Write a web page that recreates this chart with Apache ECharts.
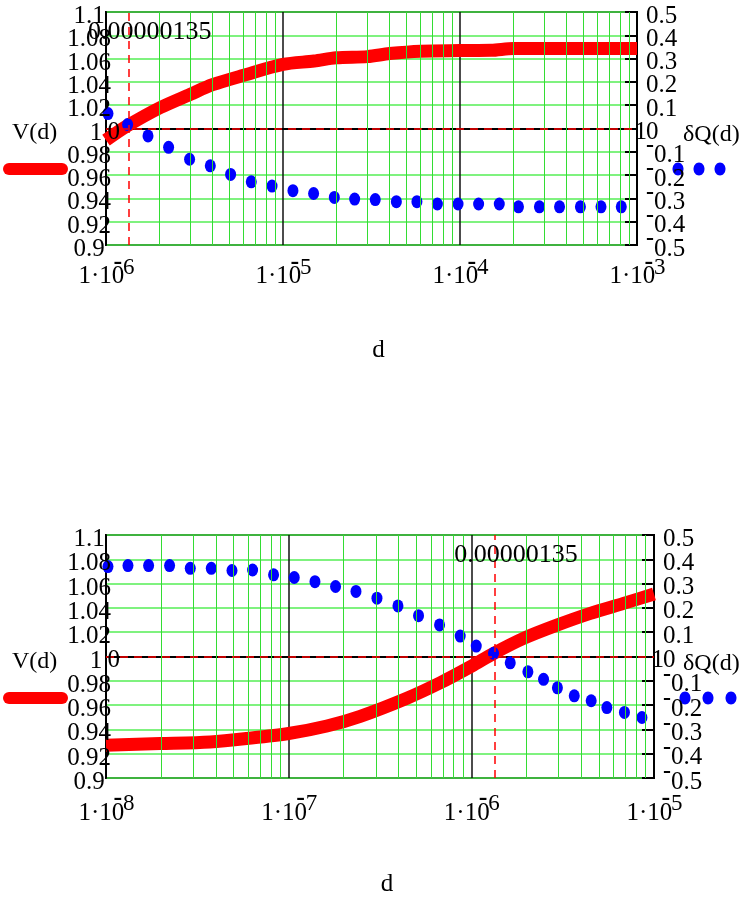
<!DOCTYPE html>
<html><head><meta charset="utf-8">
<script src="https://cdn.jsdelivr.net/npm/echarts@6/dist/echarts.min.js"></script>
<style>html,body{margin:0;padding:0;background:#fff}#c{width:749px;height:900px}</style>
</head><body><div id="c"></div>
<script>
// ---------- DATA ----------
// Top plot: d from 1e-6 to 1e-3
const topVd = [1e-6, 1.31e-6, 2.03e-6, 3e-6, 4e-6, 6e-6, 1e-5, 1.5e-5, 2e-5, 3e-5, 4e-5, 6e-5, 1e-4, 1.5e-4, 2e-4, 4e-4, 1e-3];
const topV  = [0.990, 1.002, 1.018, 1.0294, 1.0376, 1.0457, 1.055, 1.0579, 1.0607, 1.0617, 1.0643, 1.0664, 1.0669, 1.0671, 1.0686, 1.0686, 1.0686];
const topQd = [1.026e-6, 1.325e-6, 1.727e-6, 2.258e-6, 2.966e-6, 3.884e-6, 5.058e-6, 6.62e-6, 8.67e-6, 1.138e-5, 1.489e-5, 1.95e-5, 2.54e-5,
               3.32e-5, 4.37e-5, 5.71e-5, 7.45e-5, 9.75e-5, 1.274e-4, 1.667e-4, 2.14e-4, 2.81e-4, 3.65e-4, 4.79e-4, 6.26e-4, 8.15e-4];
const topQ  = [0.064, 0.017, -0.032, -0.081, -0.132, -0.160, -0.197, -0.229, -0.247, -0.267, -0.279, -0.296, -0.303,
               -0.305, -0.314, -0.314, -0.324, -0.324, -0.324, -0.324, -0.336, -0.336, -0.336, -0.336, -0.336, -0.336];
// Bottom plot: d from 1e-8 to 1e-5
const botVd = [1e-8, 1.98e-8, 3.72e-8, 5.91e-8, 1e-7, 1.62e-7, 2.465e-7, 4.44e-7, 6.76e-7, 1e-6, 1.323e-6, 1.93e-6, 2.94e-6, 4.48e-6, 6.81e-6, 1e-5];
const botV  = [0.927, 0.9283, 0.9297, 0.9325, 0.9366, 0.9428, 0.9508, 0.9657, 0.9784, 0.992, 1.0025, 1.0149, 1.0258, 1.0355, 1.0437, 1.0514];
const botQd = [1.025e-8, 1.319e-8, 1.711e-8, 2.229e-8, 2.893e-8, 3.771e-8, 4.895e-8, 6.346e-8, 8.268e-8, 1.073e-7, 1.393e-7, 1.806e-7, 2.336e-7,
               3.043e-7, 3.965e-7, 5.14e-7, 6.70e-7, 8.69e-7, 1.064e-6, 1.323e-6, 1.633e-6, 2.04e-6, 2.485e-6, 2.96e-6, 3.66e-6, 4.53e-6, 5.52e-6, 6.89e-6, 8.59e-6];
const botQ  = [0.370, 0.374, 0.374, 0.374, 0.363, 0.363, 0.354, 0.356, 0.336, 0.325, 0.308, 0.288, 0.268,
               0.240, 0.208, 0.168, 0.130, 0.084, 0.043, 0.013, -0.026, -0.063, -0.094, -0.129, -0.162, -0.182, -0.210, -0.230, -0.251];
// Markers
const markerD = 1.35e-6;
const markerText = '0.00000135';
const markerV = 1;
// Axes ranges and tick labels
const topXRange = [1e-6, 1e-3];
const botXRange = [1e-8, 1e-5];
const topXTicks = [1e-6, 1e-5, 1e-4, 1e-3];
const botXTicks = [1e-8, 1e-7, 1e-6, 1e-5];
const leftRange = [0.9, 1.1, 0.02];
const rightRange = [-0.5, 0.5, 0.1];
const leftTicks = [0.9, 0.92, 0.94, 0.96, 0.98, 1, 1.02, 1.04, 1.06, 1.08, 1.1];
const rightTicks = [-0.5, -0.4, -0.3, -0.2, -0.1, 0, 0.1, 0.2, 0.3, 0.4, 0.5];
const xTitle = 'd';
const vName = 'V(d)';
const qName = 'δQ(d)';

// ---------- STYLE ----------
const FONT = '"Liberation Serif","Times New Roman",serif';
const FS = 25;
const GREEN_V = '#33dd33';
const GREEN_H = '#55ee55';

function minorTicks(range) {
  const out = [];
  for (let e = Math.round(Math.log10(range[0])); e < Math.round(Math.log10(range[1])); e++) {
    for (let m = 2; m <= 9; m++) out.push(m * Math.pow(10, e));
  }
  return out;
}

function xAxisCfg(gi, range, gap) {
  return {
    type: 'log', logBase: 10, gridIndex: gi, min: range[0], max: range[1], splitNumber: 3,
    axisLine: { show: true, lineStyle: { color: '#000', width: 2 } },
    axisTick: { show: false },
    splitLine: { show: true, lineStyle: { color: '#111', width: 1.5 } },
    axisLabel: { show: false },
    name: xTitle, nameLocation: 'middle', nameGap: gap,
    nameTextStyle: { fontFamily: FONT, fontSize: FS, color: '#000', padding: [0, 0, 0, 14], verticalAlign: 'middle' }
  };
}
function leftAxisCfg(gi) {
  return {
    type: 'value', gridIndex: gi, position: 'left', min: leftRange[0], max: leftRange[1], interval: leftRange[2],
    axisLine: { show: true, lineStyle: { color: '#000', width: 2 } },
    axisTick: { show: false },
    splitLine: { show: true, lineStyle: { color: GREEN_H, width: 1.5 } },
    axisLabel: { show: false }
  };
}
function rightAxisCfg(gi) {
  return {
    type: 'value', gridIndex: gi, position: 'right', min: rightRange[0], max: rightRange[1], interval: rightRange[2],
    axisLine: { show: true, lineStyle: { color: '#000', width: 2 } },
    axisTick: { show: true, inside: true, length: 12, lineStyle: { color: '#000', width: 2 } },
    splitLine: { show: false },
    axisLabel: { show: false }
  };
}
function vLine(v) { return [{ coord: [v, leftRange[0]] }, { coord: [v, leftRange[1]] }]; }
function minorSeries(xi, yi, range) {
  return {
    type: 'line', xAxisIndex: xi, yAxisIndex: yi, data: [[range[0], leftRange[0]]], showSymbol: false, silent: true, z: 1,
    lineStyle: { opacity: 0 },
    markLine: { silent: true, symbol: ['none', 'none'], label: { show: false }, animation: false,
      lineStyle: { color: GREEN_V, width: 1, type: 'solid' },
      data: minorTicks(range).map(vLine) }
  };
}
function markerSeries(xi, yi, range) {
  return {
    type: 'line', xAxisIndex: xi, yAxisIndex: yi, data: [[range[0], leftRange[0]]], showSymbol: false, silent: true, z: 2,
    lineStyle: { opacity: 0 },
    markLine: { silent: true, symbol: ['none', 'none'], label: { show: false }, animation: false,
      lineStyle: { color: '#ff0000', width: 1.5, type: [8, 6], opacity: 1 },
      data: [vLine(markerD), [{ coord: [range[0], markerV] }, { coord: [range[1], markerV] }]] }
  };
}
function vSeries(xi, yi, xs, ys) {
  return { type: 'line', xAxisIndex: xi, yAxisIndex: yi, z: 3, showSymbol: false, smooth: 0.3, silent: true,
    data: xs.map((x, i) => [x, ys[i]]),
    lineStyle: { color: '#ff0000', width: 13, cap: 'butt', join: 'round' } };
}
function qSeries(xi, yi, xs, ys) {
  return { type: 'scatter', xAxisIndex: xi, yAxisIndex: yi, z: 4, silent: true,
    symbol: 'circle', symbolSize: [11, 13], itemStyle: { color: '#0000ff', opacity: 1 },
    data: xs.map((x, i) => [x, ys[i]]) };
}

function txt(x, y, text, size, align, extra) {
  return Object.assign({ type: 'text', x: x, y: y, z: 100,
    style: { text: text, font: size + 'px ' + FONT, fill: '#000', align: align, textAlign: align, verticalAlign: 'middle', textVerticalAlign: 'middle' } }, extra || {});
}
function boldTxt(x, y, text, size) {
  return { type: 'text', x: x, y: y, z: 100,
    style: { text: text, font: 'bold ' + size + 'px ' + FONT, fill: '#000', align: 'left', textAlign: 'left', verticalAlign: 'middle', textVerticalAlign: 'middle' } };
}

function legendGraphics(textY, lineY, dotXs) {
  return [
    txt(12, textY, vName, 24, 'left'),
    { type: 'line', shape: { x1: 9, y1: lineY, x2: 62, y2: lineY }, style: { stroke: '#ff0000', lineWidth: 12, lineCap: 'round' } },
    txt(683, textY + 2, qName, 24, 'left')
  ].concat(dotXs.map(x => ({ type: 'ellipse', shape: { cx: x, cy: lineY, rx: 5.5, ry: 6.5 }, style: { fill: '#0000ff' } })));
}

const chart = echarts.init(document.getElementById('c'));
const option = {
  animation: false,
  backgroundColor: '#fff',
  textStyle: { fontFamily: FONT },
  grid: [
    { left: 106, top: 12, width: 531, height: 233, show: true, borderColor: '#000', borderWidth: 2, backgroundColor: 'transparent' },
    { left: 106, top: 535, width: 548, height: 243, show: true, borderColor: '#000', borderWidth: 2, backgroundColor: 'transparent' }
  ],
  xAxis: [xAxisCfg(0, topXRange, 105), xAxisCfg(1, botXRange, 106)],
  yAxis: [leftAxisCfg(0), rightAxisCfg(0), leftAxisCfg(1), rightAxisCfg(1)],
  series: [
    minorSeries(0, 0, topXRange), markerSeries(0, 0, topXRange), vSeries(0, 0, topVd, topV), qSeries(0, 1, topQd, topQ),
    minorSeries(1, 2, botXRange), markerSeries(1, 2, botXRange), vSeries(1, 2, botVd, botV), qSeries(1, 3, botQd, botQ)
  ],
  graphic: legendGraphics(133, 169, [678, 699, 720]).concat(legendGraphics(662, 698, [685, 708, 731]))
};
chart.setOption(option);

// tick labels and marker labels, placed through the axes' own scales
function axisTexts(xi, yiL, yiR, range, xTicks, xLabelDy) {
  const out = [];
  const fL = { xAxisIndex: xi, yAxisIndex: yiL };
  const fR = { xAxisIndex: xi, yAxisIndex: yiR };
  leftTicks.forEach(v => {
    const p = chart.convertToPixel(fL, [range[0], v]);
    const s = String(parseFloat(v.toFixed(2)));
    out.push(txt(p[0] - 17 + (s === '1' ? 7 : 0), p[1] + 4.5, s, FS, 'center'));
  });
  rightTicks.forEach(v => {
    const p = chart.convertToPixel(fR, [range[1], v]);
    const r = Math.round(v * 10) / 10;
    const x0 = p[0] + 9;
    if (r < 0) {
      out.push(boldTxt(x0, p[1] - 6, '-', 24));
      out.push(txt(x0 + 8, p[1] + 4, String(-r), FS, 'left'));
    } else {
      out.push(txt(x0, p[1] + 4, String(r), FS, 'left'));
    }
  });
  xTicks.forEach(v => {
    const p = chart.convertToPixel(fL, [v, leftRange[0]]);
    const e = Math.round(Math.log10(v));
    const by = p[1] + xLabelDy;
    out.push(txt(p[0] - 27.5, by, '1·10', FS, 'left'));
    if (e < 0) out.push(boldTxt(p[0] + 7.5, by - 14.5, '-', 26));
    out.push(txt(p[0] + 17, by - 9, String(Math.abs(e)), 23, 'left'));
  });
  const pTop = chart.convertToPixel(fL, [markerD, leftRange[1]]);
  const pLeft = chart.convertToPixel(fL, [range[0], markerV]);
  const pRight = chart.convertToPixel(fL, [range[1], markerV]);
  out.push(txt(pTop[0] - 41, pTop[1] + 20, markerText, 26, 'left'));
  out.push(txt(pLeft[0] + 1.5, pLeft[1] + 4, '0', FS, 'left'));
  out.push(txt(pRight[0] - 2.5, pRight[1] + 4, '1', FS, 'left'));
  return out;
}
chart.setOption({ graphic: option.graphic.concat(
  axisTexts(0, 0, 1, topXRange, topXTicks, 31.5),
  axisTexts(1, 2, 3, botXRange, botXTicks, 35)) });
</script>
</body></html>
